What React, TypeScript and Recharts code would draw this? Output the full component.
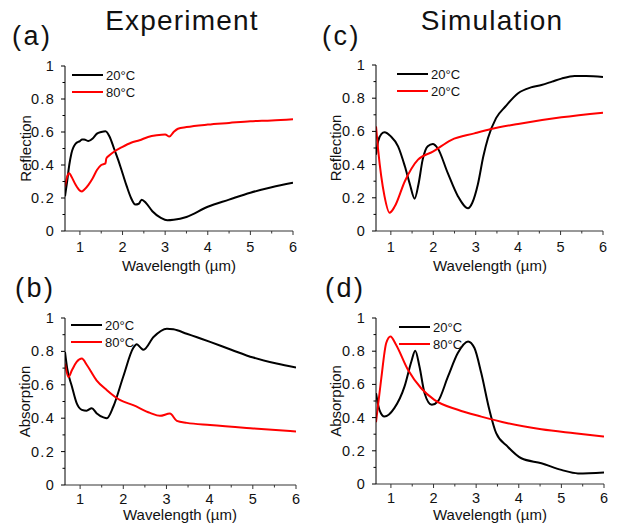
import React from 'react';
import { LineChart, Line, XAxis, YAxis, Legend } from 'recharts';

// wavelength (µm) / value pairs
const expRefl20X = [0.65, 0.7, 0.75, 0.8, 0.9, 1.0, 1.05, 1.1, 1.2, 1.3, 1.4, 1.5, 1.6, 1.7, 1.8, 1.9, 2.0, 2.1, 2.2, 2.3, 2.38, 2.45, 2.55, 2.7, 2.9, 3.05, 3.2, 3.5, 4.0, 4.5, 5.0, 5.5, 6.0];
const expRefl20Y = [0.21, 0.3, 0.4, 0.47, 0.53, 0.545, 0.555, 0.555, 0.545, 0.56, 0.59, 0.6, 0.605, 0.57, 0.5, 0.43, 0.35, 0.27, 0.2, 0.16, 0.165, 0.19, 0.17, 0.12, 0.08, 0.065, 0.068, 0.085, 0.147, 0.19, 0.232, 0.265, 0.292];
const expRefl80X = [0.65, 0.7, 0.75, 0.8, 0.9, 1.0, 1.05, 1.1, 1.2, 1.3, 1.4, 1.5, 1.6, 1.62, 1.7, 1.8, 2.0, 2.2, 2.4, 2.6, 2.8, 3.0, 3.1, 3.2, 3.3, 3.5, 4.0, 4.5, 5.0, 5.5, 6.0];
const expRefl80Y = [0.27, 0.33, 0.35, 0.33, 0.28, 0.245, 0.24, 0.25, 0.28, 0.32, 0.37, 0.4, 0.41, 0.44, 0.46, 0.48, 0.51, 0.535, 0.55, 0.57, 0.58, 0.585, 0.572, 0.6, 0.62, 0.63, 0.645, 0.655, 0.665, 0.67, 0.678];

const expAbs20X = [0.65, 0.7, 0.81, 0.92, 1.04, 1.15, 1.27, 1.38, 1.54, 1.62, 1.77, 2.0, 2.23, 2.31, 2.39, 2.47, 2.7, 3.01, 3.16, 3.47, 4.01, 4.5, 5.01, 5.55, 6.0];
const expAbs20Y = [0.797, 0.7, 0.59, 0.49, 0.45, 0.445, 0.46, 0.43, 0.405, 0.4, 0.47, 0.65, 0.82, 0.843, 0.825, 0.81, 0.886, 0.936, 0.932, 0.906, 0.857, 0.81, 0.763, 0.727, 0.703];
const expAbs80X = [0.65, 0.73, 0.81, 0.92, 1.04, 1.16, 1.38, 1.62, 1.93, 2.23, 2.62, 2.85, 3.08, 3.24, 3.47, 4.01, 5.01, 6.0];
const expAbs80Y = [0.727, 0.647, 0.687, 0.737, 0.757, 0.717, 0.627, 0.568, 0.508, 0.478, 0.432, 0.414, 0.428, 0.384, 0.372, 0.359, 0.339, 0.321];

const simRefl20X = [0.65, 0.7, 0.78, 0.85, 1.0, 1.17, 1.33, 1.45, 1.56, 1.65, 1.75, 1.87, 1.99, 2.1, 2.34, 2.58, 2.82, 2.92, 3.05, 3.18, 3.29, 3.48, 3.7, 4.0, 4.3, 4.55, 4.8, 5.02, 5.33, 5.6, 6.0];
const simRefl20Y = [0.46, 0.54, 0.585, 0.595, 0.57, 0.51, 0.39, 0.28, 0.195, 0.28, 0.43, 0.51, 0.524, 0.5, 0.35, 0.21, 0.137, 0.17, 0.28, 0.45, 0.56, 0.68, 0.75, 0.83, 0.865, 0.88, 0.9, 0.918, 0.934, 0.934, 0.928];
const simRefl80X = [0.65, 0.7, 0.85, 0.97, 1.09, 1.33, 1.64, 1.99, 2.42, 2.97, 3.36, 4.0, 5.02, 6.0];
const simRefl80Y = [0.63, 0.49, 0.21, 0.11, 0.147, 0.3, 0.43, 0.478, 0.548, 0.588, 0.614, 0.645, 0.685, 0.713];

const simAbs20X = [0.65, 0.73, 0.85, 1.08, 1.32, 1.48, 1.57, 1.67, 1.79, 1.96, 2.1, 2.34, 2.57, 2.81, 2.96, 3.12, 3.31, 3.47, 3.74, 4.06, 4.53, 5.0, 5.39, 6.0];
const simAbs20Y = [0.547, 0.447, 0.406, 0.457, 0.588, 0.738, 0.803, 0.708, 0.547, 0.477, 0.497, 0.648, 0.789, 0.859, 0.819, 0.668, 0.447, 0.306, 0.225, 0.155, 0.125, 0.085, 0.064, 0.07];
const simAbs80X = [0.65, 0.77, 0.89, 0.99, 1.12, 1.4, 1.71, 2.02, 2.57, 3.12, 3.74, 4.53, 5.31, 6.0];
const simAbs80Y = [0.372, 0.628, 0.849, 0.889, 0.839, 0.688, 0.577, 0.507, 0.447, 0.406, 0.366, 0.33, 0.306, 0.286];

const xMajor = [1, 2, 3, 4, 5, 6];
const xMinor = [1.5, 2.5, 3.5, 4.5, 5.5];
const yMajor = [0, 0.2, 0.4, 0.6, 0.8, 1];
const yMinor = [0.1, 0.3, 0.5, 0.7, 0.9];

const FONT = '"Liberation Sans", Arial, Helvetica, sans-serif';
const RED = '#ff0000';

const zip = (xs: number[], ys: number[]) => xs.map((x, i) => ({ x, y: ys[i] }));
const xTicks = [...xMajor, ...xMinor].sort((a, b) => a - b);
const yTicks = [...yMajor, ...yMinor].sort((a, b) => a - b);

function LeftTick(p: any) {
  const v = p.payload.value;
  const major = yMajor.includes(v);
  return (
    <g>
      <line x1={p.x} x2={p.x - (major ? 4 : 2.5)} y1={p.y} y2={p.y} stroke="#000" />
      {major && (
        <text x={p.x - 10} y={p.y} dy={5} textAnchor="end" fontSize={14.5} letterSpacing={1.3} fill="#111" fontFamily={FONT}>
          {String(v)}
        </text>
      )}
    </g>
  );
}

const makeBottomTick = (gap: number) => (p: any) => {
  const v = p.payload.value;
  const major = xMajor.includes(v);
  return (
    <g>
      <line x1={p.x} x2={p.x} y1={p.y} y2={p.y + (major ? 4 : 2.5)} stroke="#333" />
      {major && (
        <text x={p.x} y={p.y + gap} textAnchor="middle" fontSize={14.5} fill="#111" fontFamily={FONT}>
          {String(v)}
        </text>
      )}
    </g>
  );
};

function RightTick(p: any) {
  return <line x1={p.x} x2={p.x - 3} y1={p.y} y2={p.y} stroke="#888" />;
}

interface Series { name: string; color: string; xs: number[]; ys: number[] }

interface PanelProps {
  left: number; top: number; width: number; height: number;
  right: number; xAxisH: number; tickGap: number;
  legendX: number; legendY: number;
  series: Series[];
}

function Panel({ left, top, width, height, right, xAxisH, tickGap, legendX, legendY, series }: PanelProps) {
  const BottomTick = makeBottomTick(tickGap);
  return (
    <div style={{ position: 'absolute', left, top }}>
      <LineChart width={width} height={height} margin={{ top: 20, right, bottom: 0, left: 0 }}>
        <XAxis
          dataKey="x" type="number" domain={[0.65, 6]} allowDataOverflow ticks={xTicks}
          height={xAxisH} tickSize={0} tickMargin={0} tick={BottomTick} interval={0}
          axisLine={{ stroke: '#333' }} tickLine={false}
        />
        <XAxis
          xAxisId="top" orientation="top" type="number" domain={[0.65, 6]} allowDataOverflow
          height={0} tick={false} tickLine={false} axisLine={{ stroke: '#888' }}
        />
        <YAxis
          type="number" domain={[0, 1]} allowDataOverflow ticks={yTicks} width={65}
          tickSize={0} tickMargin={0} tick={LeftTick} interval={0}
          axisLine={{ stroke: '#000' }} tickLine={false}
        />
        <YAxis
          yAxisId="right" orientation="right" type="number" domain={[0, 1]} allowDataOverflow
          ticks={yTicks} width={0} tickSize={0} tickMargin={0} tick={RightTick} interval={0}
          axisLine={{ stroke: '#888' }} tickLine={false}
        />
        <Legend
          layout="horizontal" align="center" verticalAlign="middle"
          wrapperStyle={{ left: legendX - left, top: legendY - 8.5 - top, width: 'auto', height: 'auto' }}
          content={() => (
            <div style={{ fontFamily: FONT, fontSize: 13, color: '#111' }}>
              {series.map((s, i) => (
                <div key={i} style={{ display: 'flex', alignItems: 'center', height: 17 }}>
                  <div style={{ width: 31, height: 2.2, background: s.color, marginRight: 3 }} />
                  <span>{s.name}</span>
                </div>
              ))}
            </div>
          )}
        />
        {series.map((s, i) => (
          <Line
            key={i} data={zip(s.xs, s.ys)} dataKey="y" name={s.name} type="monotone"
            stroke={s.color} strokeWidth={2} dot={false} activeDot={false} isAnimationActive={false}
          />
        ))}
      </LineChart>
    </div>
  );
}

export default function App() {
  return (
    <div style={{ position: 'fixed', left: 0, top: 0, width: 618, height: 531, background: '#fff', overflow: 'hidden', fontFamily: FONT }}>
      <Panel
        left={0} top={46} width={300} height={230} right={7} xAxisH={45} tickGap={21}
        legendX={72} legendY={75}
        series={[
          { name: '20°C', color: '#000', xs: expRefl20X, ys: expRefl20Y },
          { name: '80°C', color: RED, xs: expRefl80X, ys: expRefl80Y },
        ]}
      />
      <Panel
        left={311} top={45} width={300} height={230} right={8} xAxisH={44} tickGap={21}
        legendX={397} legendY={74}
        series={[
          { name: '20°C', color: '#000', xs: simRefl20X, ys: simRefl20Y },
          { name: '20°C', color: RED, xs: simRefl80X, ys: simRefl80Y },
        ]}
      />
      <Panel
        left={0} top={298} width={305} height={233} right={9} xAxisH={46} tickGap={19}
        legendX={71} legendY={325}
        series={[
          { name: '20°C', color: '#000', xs: expAbs20X, ys: expAbs20Y },
          { name: '80°C', color: RED, xs: expAbs80X, ys: expAbs80Y },
        ]}
      />
      <Panel
        left={311} top={298} width={300} height={233} right={7} xAxisH={47} tickGap={19}
        legendX={399} legendY={327}
        series={[
          { name: '20°C', color: '#000', xs: simAbs20X, ys: simAbs20Y },
          { name: '80°C', color: RED, xs: simAbs80X, ys: simAbs80Y },
        ]}
      />
      <svg width={618} height={531} style={{ position: 'absolute', left: 0, top: 0, pointerEvents: 'none' }} fontFamily={FONT} fill="#111">
        <text x={182} y={30} fontSize={28} letterSpacing={1.2} textAnchor="middle">Experiment</text>
        <text x={492} y={30} fontSize={28} letterSpacing={1.2} textAnchor="middle">Simulation</text>
        <text x={12} y={45} fontSize={27} letterSpacing={2.5}>(a)</text>
        <text x={322} y={45} fontSize={27} letterSpacing={2.5}>(c)</text>
        <text x={15} y={297} fontSize={27} letterSpacing={2.5}>(b)</text>
        <text x={325} y={297} fontSize={27} letterSpacing={2.5}>(d)</text>
        <text x={31} y={148.5} fontSize={15} textAnchor="middle" transform="rotate(-90 31 148.5)">Reflection</text>
        <text x={341} y={148} fontSize={15} textAnchor="middle" transform="rotate(-90 341 148)">Reflection</text>
        <text x={30} y={401.5} fontSize={15} textAnchor="middle" transform="rotate(-90 30 401.5)">Absorption</text>
        <text x={341} y={401} fontSize={15} textAnchor="middle" transform="rotate(-90 341 401)">Absorption</text>
        <text x={179} y={271} fontSize={15} textAnchor="middle">Wavelength (µm)</text>
        <text x={490} y={271} fontSize={15} textAnchor="middle">Wavelength (µm)</text>
        <text x={180} y={520} fontSize={15} textAnchor="middle">Wavelength (µm)</text>
        <text x={490} y={520} fontSize={15} textAnchor="middle">Wavelength (µm)</text>
      </svg>
    </div>
  );
}
